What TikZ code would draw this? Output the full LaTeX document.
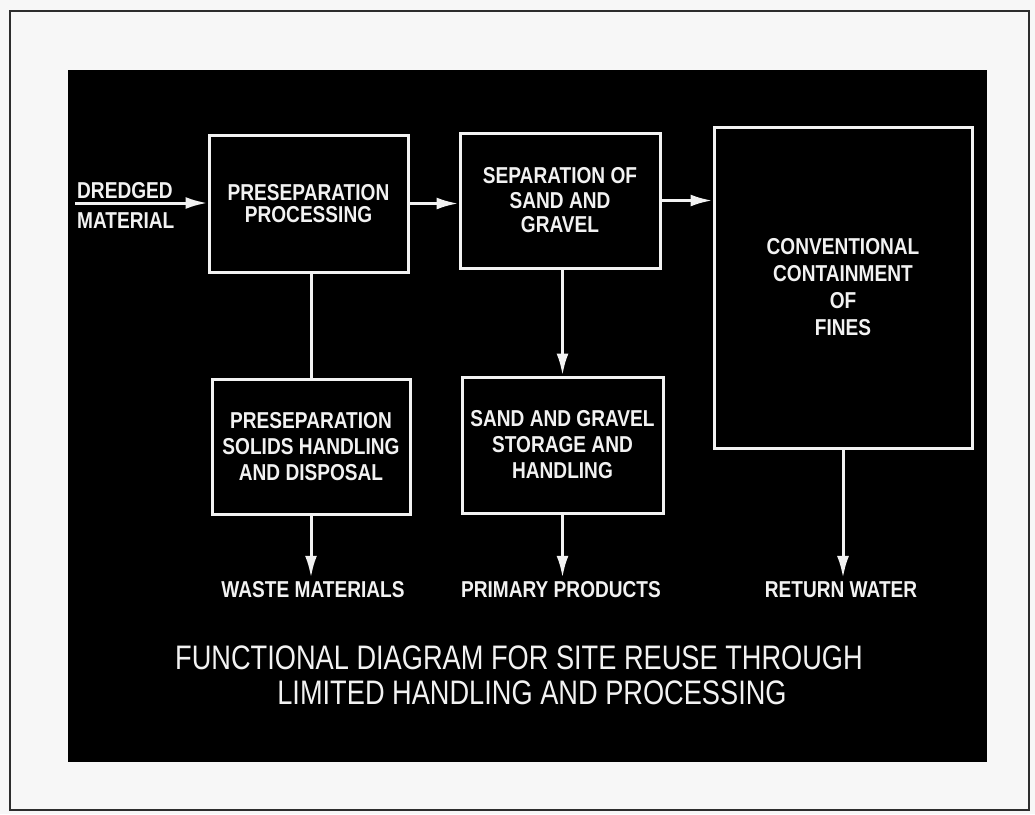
\documentclass[tikz,border=0pt]{standalone}
\usepackage{fontspec}
\usetikzlibrary{arrows.meta}
\newfontfamily\boxfont{Liberation Sans}[FakeStretch=0.83]
\newfontfamily\titlefont{Liberation Sans}[FakeStretch=0.8]
\definecolor{paper}{RGB}{247,247,247}
\definecolor{ink}{RGB}{242,242,242}
\definecolor{frame}{RGB}{45,45,45}
\begin{document}
\begin{tikzpicture}[x=1pt,y=-1pt,
 box/.style={draw=ink, line width=3pt, fill=black, inner sep=0pt, align=center, text=ink,
   font=\boxfont\bfseries\fontsize{23}{26}\selectfont},
 lead/.style={font=\boxfont\bfseries\fontsize{23}{#1}\selectfont},
 lbl/.style={text=ink, inner sep=0pt, font=\boxfont\bfseries\fontsize{23}{26}\selectfont},
 ttl/.style={text=ink, inner sep=0pt, font=\titlefont\fontsize{34}{34}\selectfont},
 flow/.style={draw=ink, line width=3pt},
 arr/.style={flow, -{Latex[length=22pt,width=12pt]}},
]
\useasboundingbox (0,0) rectangle (1035,814);
\fill[paper] (0,0) rectangle (1035,814);
\draw[frame, line width=2.5pt] (10,11) rectangle (1029,810);
\fill[black] (68,70) rectangle (987,762);

% boxes
\node[box, minimum width=199pt, minimum height=137pt, lead=22] (pp) at (308.5,203.5) {PRESEPARATION\\PROCESSING};
\node[box, minimum width=200pt, minimum height=135pt, lead=24.5] (sg) at (560,200.5) {SEPARATION OF\\SAND AND\\GRAVEL};
\node[box, minimum width=258pt, minimum height=321pt, lead=27] (cc) at (843,287.5) {CONVENTIONAL\\CONTAINMENT\\OF\\FINES};
\node[box, minimum width=198pt, minimum height=135pt] (sh) at (311,446.5) {PRESEPARATION\\SOLIDS HANDLING\\AND DISPOSAL};
\node[box, minimum width=201pt, minimum height=136pt] (st) at (562.5,445) {SAND AND GRAVEL\\STORAGE AND\\HANDLING};

% labels
\node[lbl, anchor=base west] (dr) at (77,198) {DREDGED};
\node[lbl, anchor=base west] (ma) at (77,228) {MATERIAL};
\coordinate (din) at (75,203);
\node[lbl, anchor=base] (waste) at (313,597) {WASTE MATERIALS};
\node[lbl, anchor=base] (prod) at (561,597) {PRIMARY PRODUCTS};
\node[lbl, anchor=base] (ret) at (841,597) {RETURN WATER};

% title
\node[ttl, anchor=base] (t1) at (519,669) {FUNCTIONAL DIAGRAM FOR SITE REUSE THROUGH};
\node[ttl, anchor=base] (t2) at (532,704) {LIMITED HANDLING AND PROCESSING};

% connectors
\draw[arr] (din) -- (din -| pp.west);
\draw[arr] (pp.east) -- (pp.east -| sg.west);
\draw[arr] (sg.east) -- (sg.east -| cc.west);
\draw[flow] (sh.north |- pp.south) -- (sh.north);
\draw[arr] (st.north |- sg.south) -- (st.north);
\draw[arr, shorten >=3pt] (sh.south) -- (sh.south |- waste.north);
\draw[arr, shorten >=3pt] (st.south) -- (st.south |- prod.north);
\draw[arr, shorten >=3pt] (cc.south) -- (cc.south |- ret.north);
\end{tikzpicture}
\end{document}
